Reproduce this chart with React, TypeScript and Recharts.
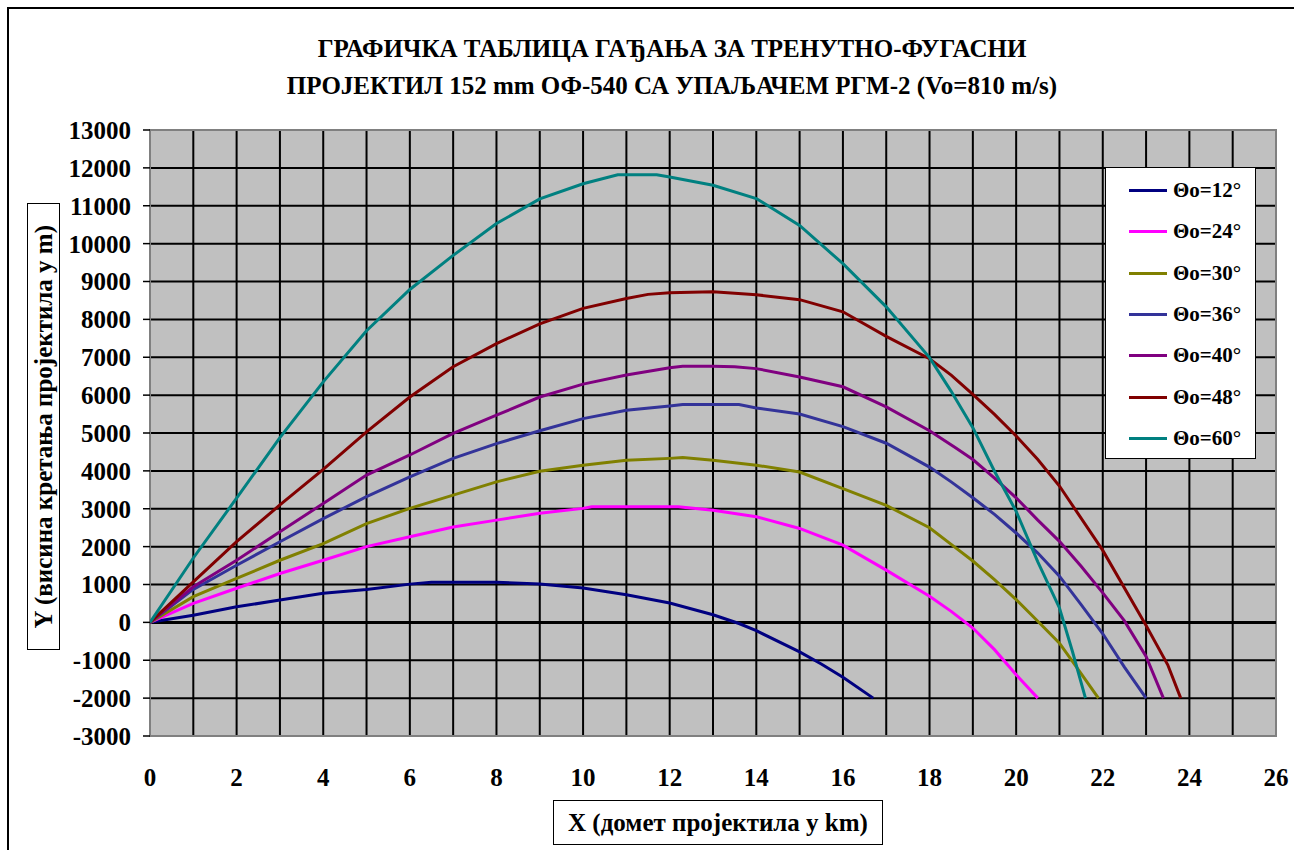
import React from 'react'
import { LineChart, Line, XAxis, YAxis, CartesianGrid, ReferenceLine, ReferenceArea } from 'recharts'

const FONT = 'Liberation Serif'

const xTicks = [0, 1, 2, 3, 4, 5, 6, 7, 8, 9, 10, 11, 12, 13, 14, 15, 16, 17, 18, 19, 20, 21, 22, 23, 24, 25, 26]
const yTicks = [-3000, -2000, -1000, 0, 1000, 2000, 3000, 4000, 5000, 6000, 7000, 8000, 9000, 10000, 11000, 12000, 13000]

// domet (km) / visina (m) po uglu
const km12 = [0, 1, 2, 3, 4, 5, 6, 6.5, 7, 8, 9, 10, 11, 12, 13, 13.6, 14, 15, 15.5, 16, 16.7]
const h12 = [0, 190, 410, 590, 770, 870, 1010, 1060, 1060, 1060, 1010, 910, 730, 510, 200, -30, -220, -780, -1100, -1450, -2000]

const km24 = [0, 1, 2, 3, 4, 5, 6, 7, 8, 9, 10, 10.2, 11, 12, 12.2, 13, 14, 15, 16, 17, 18, 18.5, 19, 19.5, 20, 20.5]
const h24 = [0, 500, 900, 1290, 1640, 2000, 2260, 2520, 2700, 2880, 3010, 3050, 3050, 3050, 3050, 2960, 2790, 2480, 2040, 1380, 690, 290, -150, -720, -1380, -2000]

const km30 = [0, 1, 2, 3, 4, 5, 6, 7, 8, 9, 10, 11, 12, 12.3, 13, 14, 15, 16, 17, 18, 18.5, 19, 19.5, 20, 20.5, 21, 21.3, 21.9]
const h30 = [0, 680, 1160, 1640, 2080, 2610, 3010, 3360, 3710, 3990, 4150, 4280, 4330, 4350, 4280, 4150, 3970, 3530, 3090, 2500, 2060, 1620, 1130, 600, 30, -550, -1030, -2000]

const km36 = [0, 1, 2, 3, 4, 5, 6, 7, 8, 9, 10, 11, 12, 12.3, 13, 13.6, 14, 15, 16, 17, 18, 18.5, 19, 19.5, 20, 20.5, 21, 21.5, 22, 22.5, 23]
const h36 = [0, 870, 1510, 2130, 2740, 3320, 3840, 4330, 4720, 5060, 5380, 5600, 5710, 5750, 5750, 5750, 5660, 5500, 5170, 4730, 4100, 3710, 3290, 2850, 2360, 1830, 1220, 470, -300, -1180, -2000]

const km40 = [0, 1, 2, 3, 4, 5, 6, 7, 8, 9, 10, 11, 12, 12.3, 13, 13.5, 14, 15, 16, 17, 18, 18.6, 19, 19.5, 20, 20.5, 21, 21.5, 22, 22.5, 23, 23.4]
const h40 = [0, 940, 1640, 2390, 3140, 3890, 4420, 4990, 5470, 5950, 6290, 6530, 6720, 6760, 6760, 6750, 6700, 6480, 6220, 5690, 5060, 4610, 4300, 3810, 3290, 2700, 2140, 1480, 780, 40, -900, -2000]

const km48 = [0, 1, 2, 3, 4, 5, 6, 7, 8, 9, 10, 11, 11.5, 12, 13, 14, 15, 16, 17, 18, 18.5, 19, 19.5, 20, 20.5, 21, 22, 23, 23.5, 23.8]
const h48 = [0, 1070, 2130, 3100, 4040, 5030, 5950, 6750, 7360, 7880, 8290, 8550, 8660, 8700, 8730, 8650, 8520, 8200, 7550, 6960, 6530, 6020, 5490, 4920, 4300, 3600, 1900, -80, -1120, -2000]

const km60 = [0, 1, 2, 3, 4, 5, 6, 7, 8, 9, 10, 10.8, 11.7, 12, 13, 14, 15, 16, 17, 18, 18.5, 19, 19.5, 20, 20.5, 21, 21.3, 21.6]
const h60 = [0, 1700, 3280, 4880, 6350, 7700, 8790, 9690, 10530, 11180, 11580, 11820, 11820, 11760, 11540, 11190, 10480, 9470, 8330, 6990, 6100, 5140, 3990, 2930, 1600, 380, -770, -2000]

const series = [
  { name: 'Θo=12°', color: '#000080', km: km12, h: h12 },
  { name: 'Θo=24°', color: '#ff00ff', km: km24, h: h24 },
  { name: 'Θo=30°', color: '#808000', km: km30, h: h30 },
  { name: 'Θo=36°', color: '#333399', km: km36, h: h36 },
  { name: 'Θo=40°', color: '#800080', km: km40, h: h40 },
  { name: 'Θo=48°', color: '#800000', km: km48, h: h48 },
  { name: 'Θo=60°', color: '#008080', km: km60, h: h60 },
]

const tickStyle = { fill: '#000', fontSize: 25, fontWeight: 'bold' as const, fontFamily: FONT }

export default function App() {
  return (
    <div style={{ position: 'fixed', left: 0, top: 0, width: 1294, height: 850, background: '#fff', overflow: 'hidden', fontFamily: FONT }}>
      <div style={{ position: 'absolute', left: 7, top: 7, width: 1400, height: 1000, border: '2px solid #000' }} />

      <div style={{ position: 'absolute', left: 0, top: 30, width: 1344, textAlign: 'center', fontSize: 25, fontWeight: 'bold', lineHeight: '37px', color: '#000' }}>
        <div>ГРАФИЧКА ТАБЛИЦА ГАЂАЊА ЗА ТРЕНУТНО-ФУГАСНИ</div>
        <div>ПРОЈЕКТИЛ 152 mm ОФ-540 СА УПАЉАЧЕМ РГМ-2 (Vo=810 m/s)</div>
      </div>

      <LineChart width={1294} height={850} margin={{ top: 130, right: 18, bottom: 54, left: 70 }} style={{ fontFamily: FONT }}>
        <CartesianGrid fill="#c0c0c0" stroke="#000" strokeWidth={2} />
        <XAxis
          type="number"
          dataKey="x"
          domain={[0, 26]}
          ticks={xTicks}
          interval={0}
          height={60}
          tickLine={false}
          axisLine={false}
          tickSize={0}
          tickMargin={32}
          tick={tickStyle}
          tickFormatter={(v) => (v % 2 === 0 ? String(v) : '')}
          allowDataOverflow
        />
        <YAxis
          type="number"
          domain={[-3000, 13000]}
          ticks={yTicks}
          interval={0}
          width={80}
          axisLine={false}
          tickSize={7}
          tickLine={{ stroke: '#000', strokeWidth: 1.5 }}
          tickMargin={12}
          tick={tickStyle}
          allowDataOverflow
        />
        <ReferenceArea x1={0} x2={26} y1={-3000} y2={13000} fill="none" stroke="#808080" strokeWidth={2} />
        <ReferenceLine y={0} stroke="#000" strokeWidth={3} />
        {series.map((s) => (
          <Line
            key={s.name}
            data={s.km.map((x, i) => ({ x, y: s.h[i] }))}
            dataKey="y"
            name={s.name}
            type="linear"
            stroke={s.color}
            strokeWidth={3}
            dot={false}
            activeDot={false}
            isAnimationActive={false}
          />
        ))}
      </LineChart>

      <div style={{ position: 'absolute', left: 1105, top: 167, width: 151, height: 292, boxSizing: 'border-box', border: '1.5px solid #000', background: '#fff', paddingTop: 2 }}>
        {series.map((s) => (
          <div key={s.name} style={{ height: 41.3, display: 'flex', alignItems: 'center' }}>
            <div style={{ marginLeft: 23, width: 38, height: 3, background: s.color }} />
            <span style={{ marginLeft: 6, fontSize: 21, fontWeight: 'bold', color: '#000' }}>{s.name}</span>
          </div>
        ))}
      </div>

      <div style={{ position: 'absolute', left: 27, top: 203, width: 33, height: 447, boxSizing: 'border-box', border: '1.5px solid #000', background: '#fff', display: 'flex', alignItems: 'center', justifyContent: 'center' }}>
        <span style={{ writingMode: 'vertical-rl', transform: 'rotate(180deg)', fontSize: 25, fontWeight: 'bold', whiteSpace: 'nowrap', color: '#000' }}>
          Y (висина кретања пројектила у m)
        </span>
      </div>

      <div style={{ position: 'absolute', left: 553, top: 800, width: 330, height: 45, boxSizing: 'border-box', border: '1.5px solid #000', background: '#fff', display: 'flex', alignItems: 'center', justifyContent: 'center' }}>
        <span style={{ fontSize: 25, fontWeight: 'bold', whiteSpace: 'nowrap', color: '#000' }}>X (домет пројектила у km)</span>
      </div>
    </div>
  )
}
